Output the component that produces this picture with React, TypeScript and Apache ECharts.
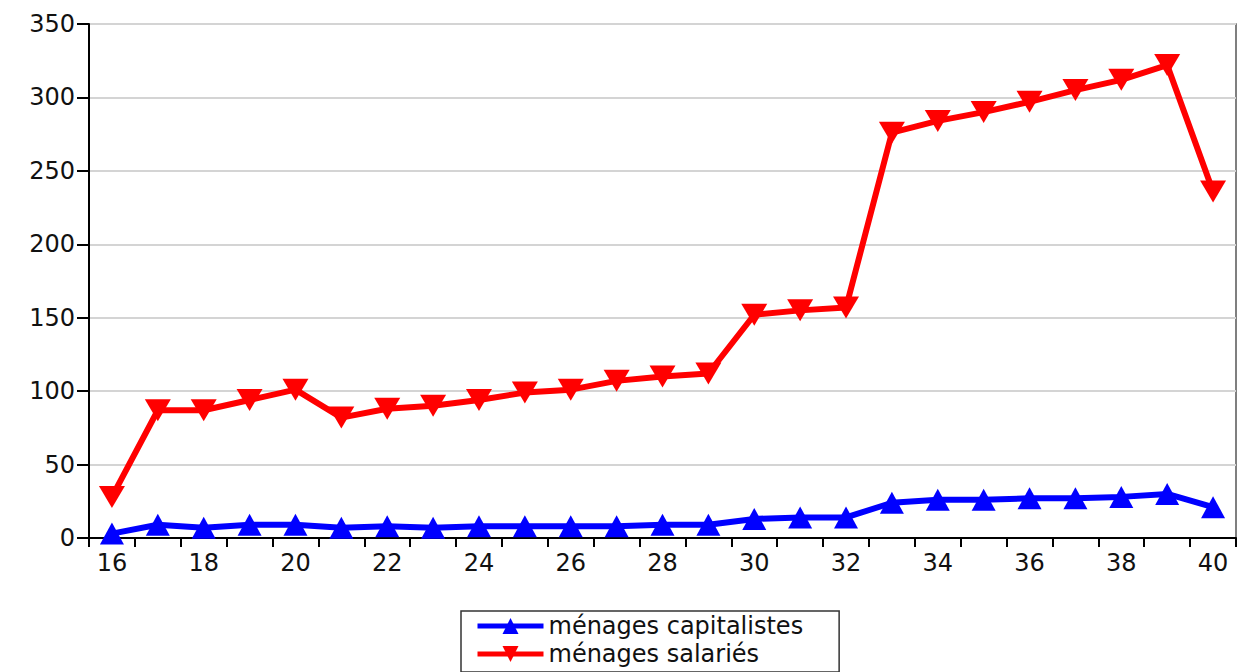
import React, { useEffect, useRef } from "react";
import * as echarts from "echarts";

const years = ["16","17","18","19","20","21","22","23","24","25","26","27","28","29","30","31","32","33","34","35","36","37","38","39","40"];
const capitalistes = [3, 9, 7, 9, 9, 7, 8, 7, 8, 8, 8, 8, 9, 9, 13, 14, 14, 24, 26, 26, 27, 27, 28, 30, 21];
const salaries = [28, 87, 87, 94, 101, 82, 88, 90, 94, 99, 101, 107, 110, 112, 152, 155, 157, 276, 284, 290, 297, 305, 312, 322, 236];
const seriesNames = ["ménages capitalistes", "ménages salariés"];

const FONT = "DejaVu Sans";

export default function App() {
  const ref = useRef<HTMLDivElement>(null);
  useEffect(() => {
    if (!ref.current) return;
    const chart = echarts.init(ref.current, undefined, { renderer: "svg" });
    chart.setOption({
      animation: false,
      backgroundColor: "#ffffff",
      grid: {
        left: 89,
        right: 4,
        top: 24,
        bottom: 134,
        show: true,
        borderColor: "#555555",
        borderWidth: 1.5,
      },
      legend: {
        orient: "vertical",
        left: 461,
        top: 611,
        height: 120,
        itemWidth: 66,
        itemHeight: 20,
        itemGap: 4,
        padding: [3, 36, 6, 14],
        borderColor: "#333333",
        borderWidth: 1.5,
        borderRadius: 0,
        lineStyle: { width: 5 },
        textStyle: { fontFamily: FONT, fontSize: 24, color: "#111111" },
        data: seriesNames,
      },
      xAxis: {
        type: "category",
        data: years,
        boundaryGap: true,
        axisLine: { show: true, lineStyle: { color: "#000000", width: 2 } },
        axisTick: { show: true, interval: 0, length: 9, lineStyle: { color: "#000000", width: 2 } },
        axisLabel: {
          interval: 1,
          margin: 13,
          fontFamily: FONT,
          fontSize: 24,
          color: "#111111",
        },
        splitLine: { show: false },
      },
      yAxis: {
        type: "value",
        min: 0,
        max: 350,
        interval: 50,
        axisLine: { show: true, lineStyle: { color: "#000000", width: 2 } },
        axisTick: { show: true, length: 12, lineStyle: { color: "#000000", width: 2 } },
        axisLabel: {
          margin: 14,
          fontFamily: FONT,
          fontSize: 24,
          color: "#111111",
        },
        splitLine: { show: true, lineStyle: { color: "#d4d4d4", width: 2 } },
      },
      series: [
        {
          name: seriesNames[0],
          type: "line",
          data: capitalistes,
          color: "#0000ff",
          lineStyle: { color: "#0000ff", width: 6 },
          symbol: "triangle",
          symbolSize: [24, 22],
          showAllSymbol: true,
          itemStyle: { color: "#0000ff" },
          z: 3,
        },
        {
          name: seriesNames[1],
          type: "line",
          data: salaries,
          color: "#ff0000",
          lineStyle: { color: "#ff0000", width: 6 },
          symbol: "triangle",
          symbolRotate: 180,
          symbolSize: [26, 22],
          showAllSymbol: true,
          itemStyle: { color: "#ff0000" },
          z: 2,
        },
      ],
    });
    return () => chart.dispose();
  }, []);
  return (
    <div
      ref={ref}
      style={{ position: "fixed", left: 0, top: 0, width: 1240, height: 672, background: "#fff" }}
    />
  );
}
